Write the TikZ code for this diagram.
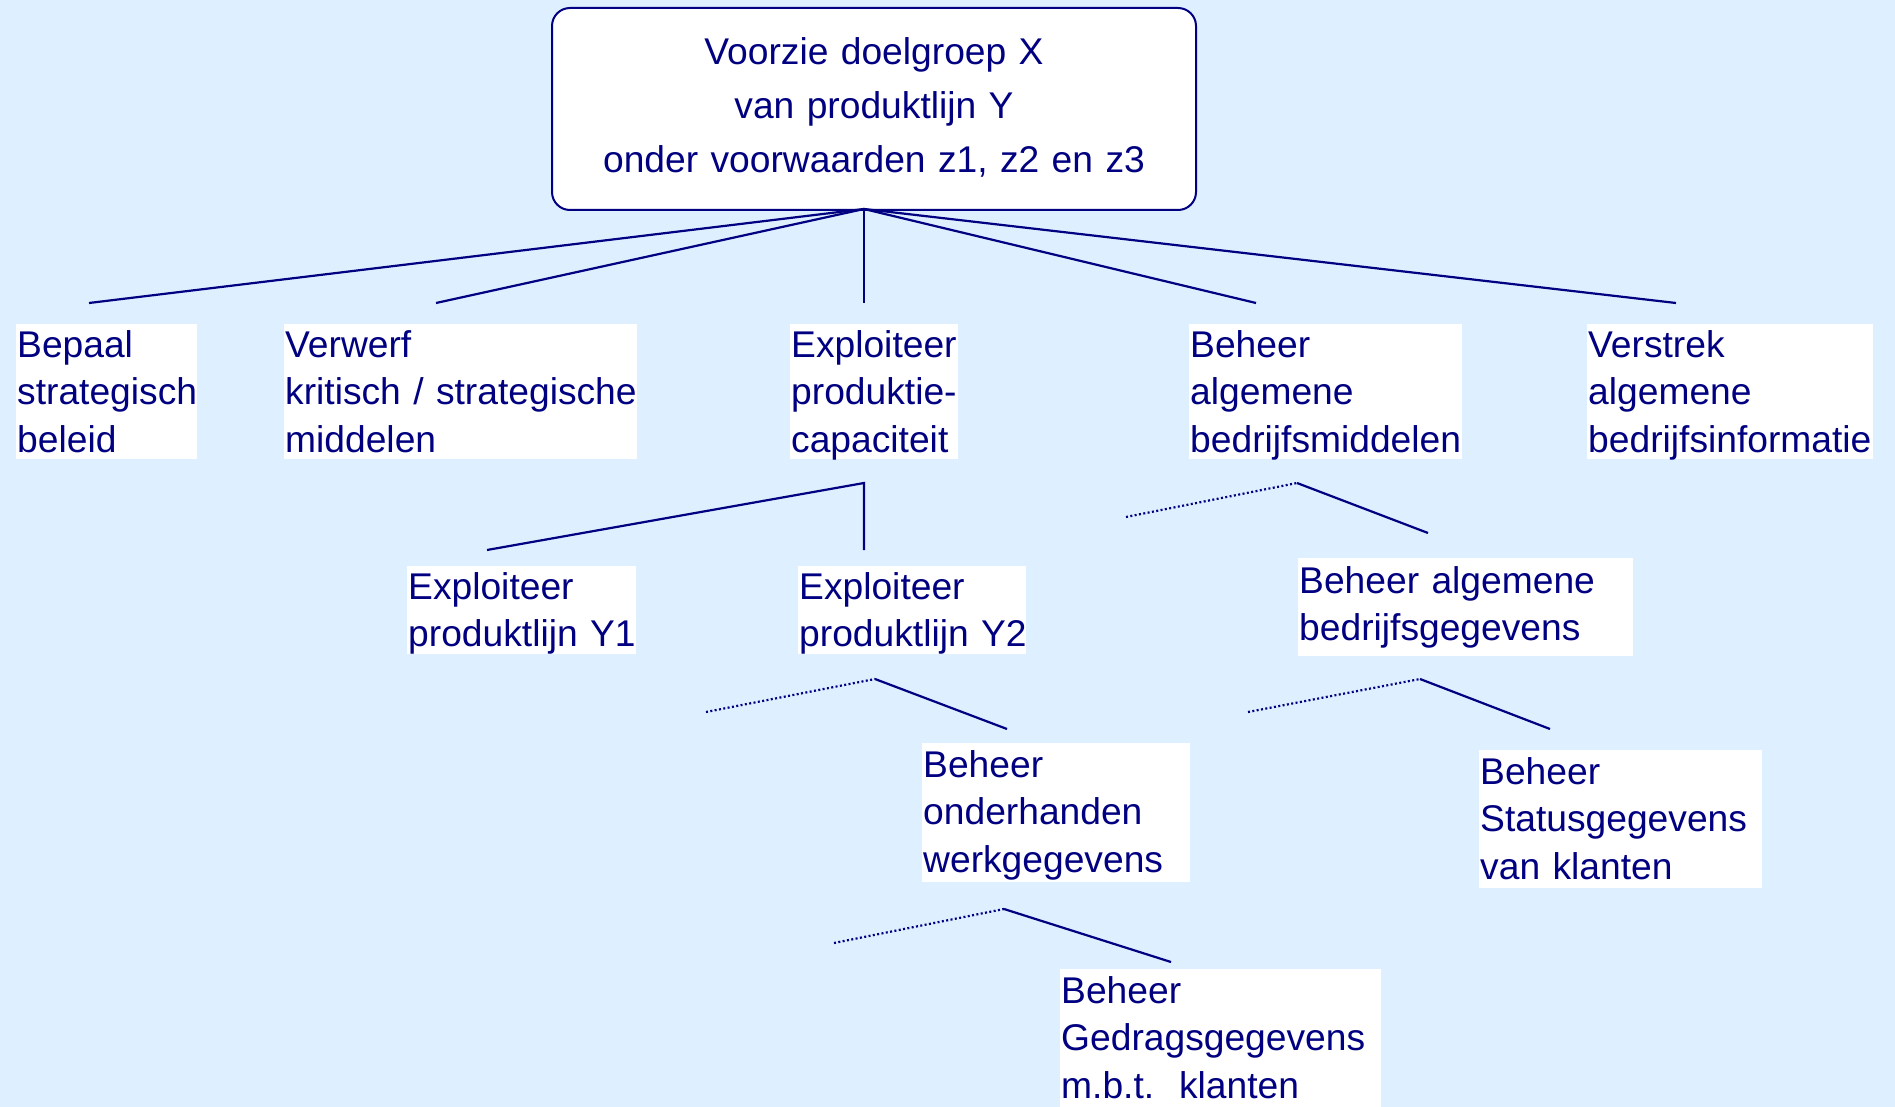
\documentclass[tikz,border=0pt]{standalone}
\usepackage{fontspec}
\setmainfont{Liberation Sans}
\definecolor{ink}{RGB}{0,0,128}
\definecolor{sky}{RGB}{222,239,255}
\begin{document}
\begin{tikzpicture}[x=1pt,y=-1pt,
  txt/.style={font=\fontsize{37.2}{47.7}\selectfont, text=ink},
  leaf/.style={txt, fill=white, anchor=north west, inner xsep=1pt, inner ysep=0pt, align=left},
  rootbox/.style={txt, font=\fontsize{37.2}{54}\selectfont, draw=ink, line width=2pt, fill=white,
    rounded corners=18pt, align=center, inner xsep=2pt, inner ysep=0pt, anchor=north},
  link/.style={draw=ink, line width=2.2pt},
  hint/.style={draw=ink, line width=2.2pt, dash pattern=on 2pt off 2.4pt}]
% background
\fill[sky] (0,0) rectangle (1895,1107);
\useasboundingbox (0,0) rectangle (1895,1107);

% root
\node[rootbox, text width=640pt, text height=57pt, text depth=145pt] (root) at (874,7)
  {Voorzie doelgroep X\\van produktlijn Y\\onder voorwaarden z1, z2 en z3};

% first level
\node[leaf, text width=179pt, text height=33pt, text depth=102pt] (bepaal) at (16,324)
  {Bepaal\\\mbox{strategisch}\\beleid};
\node[leaf, text width=351pt, text height=33pt, text depth=102pt] (verwerf) at (284,324)
  {Verwerf\\\mbox{kritisch / strategische}\\middelen};
\node[leaf, text width=166pt, text height=33pt, text depth=102pt] (capaciteit) at (790,324)
  {Exploiteer\\produktie-\\capaciteit};
\node[leaf, text width=271pt, text height=33pt, text depth=102pt] (middelen) at (1189,324)
  {Beheer\\algemene\\\mbox{bedrijfsmiddelen}};
\node[leaf, text width=284pt, text height=33pt, text depth=102pt] (verstrek) at (1587,324)
  {Verstrek\\algemene\\\mbox{bedrijfsinformatie}};

% second level
\node[leaf, text width=227pt, text height=33pt, text depth=55pt] (yeen) at (407,566)
  {Exploiteer\\\mbox{produktlijn Y1}};
\node[leaf, text width=226pt, text height=33pt, text depth=55pt] (ytwee) at (798,566)
  {Exploiteer\\\mbox{produktlijn Y2}};
\node[leaf, text width=333pt, text height=35pt, text depth=63pt] (gegevens) at (1298,558)
  {\mbox{Beheer algemene}\\bedrijfsgegevens};

% third level
\node[leaf, text width=266pt, text height=34pt, text depth=105pt] (onderhanden) at (922,743)
  {Beheer\\onderhanden\\\mbox{werkgegevens}};
\node[leaf, text width=281pt, text height=34pt, text depth=104pt] (status) at (1479,750)
  {Beheer\\\mbox{Statusgegevens}\\\mbox{van klanten}};

% fourth level
\node[leaf, text width=319pt, text height=34pt, text depth=110pt] (gedrag) at (1060,969)
  {Beheer\\\mbox{Gedragsgegevens}\\\mbox{m.b.t.\ \ klanten}};

% branching points and line ends
\coordinate (r0) at (864,209);
\coordinate (r1) at (89,303);
\coordinate (r2) at (436,303);
\coordinate (r3) at (864,303);
\coordinate (r4) at (1256,303);
\coordinate (r5) at (1676,303);

\coordinate (c0) at (864,483);
\coordinate (c1) at (487,550);
\coordinate (c2) at (864,550);

\coordinate (m0) at (1297,483);
\coordinate (m1) at (1126,517);
\coordinate (m2) at (1428,533);

\coordinate (y0) at (875,679);
\coordinate (y1) at (706,712);
\coordinate (y2) at (1007,729);

\coordinate (g0) at (1420,679);
\coordinate (g1) at (1248,712);
\coordinate (g2) at (1550,729);

\coordinate (o0) at (1004,909);
\coordinate (o1) at (834,943);
\coordinate (o2) at (1171,962);

% connectors
\foreach \e in {r1,r2,r3,r4,r5} \draw[link] (r0) -- (\e);
\draw[link] (c1) -- (c0) -- (c2);
\draw[hint] (m1) -- (m0); \draw[link] (m0) -- (m2);
\draw[hint] (y1) -- (y0); \draw[link] (y0) -- (y2);
\draw[hint] (g1) -- (g0); \draw[link] (g0) -- (g2);
\draw[hint] (o1) -- (o0); \draw[link] (o0) -- (o2);
\end{tikzpicture}
\end{document}
